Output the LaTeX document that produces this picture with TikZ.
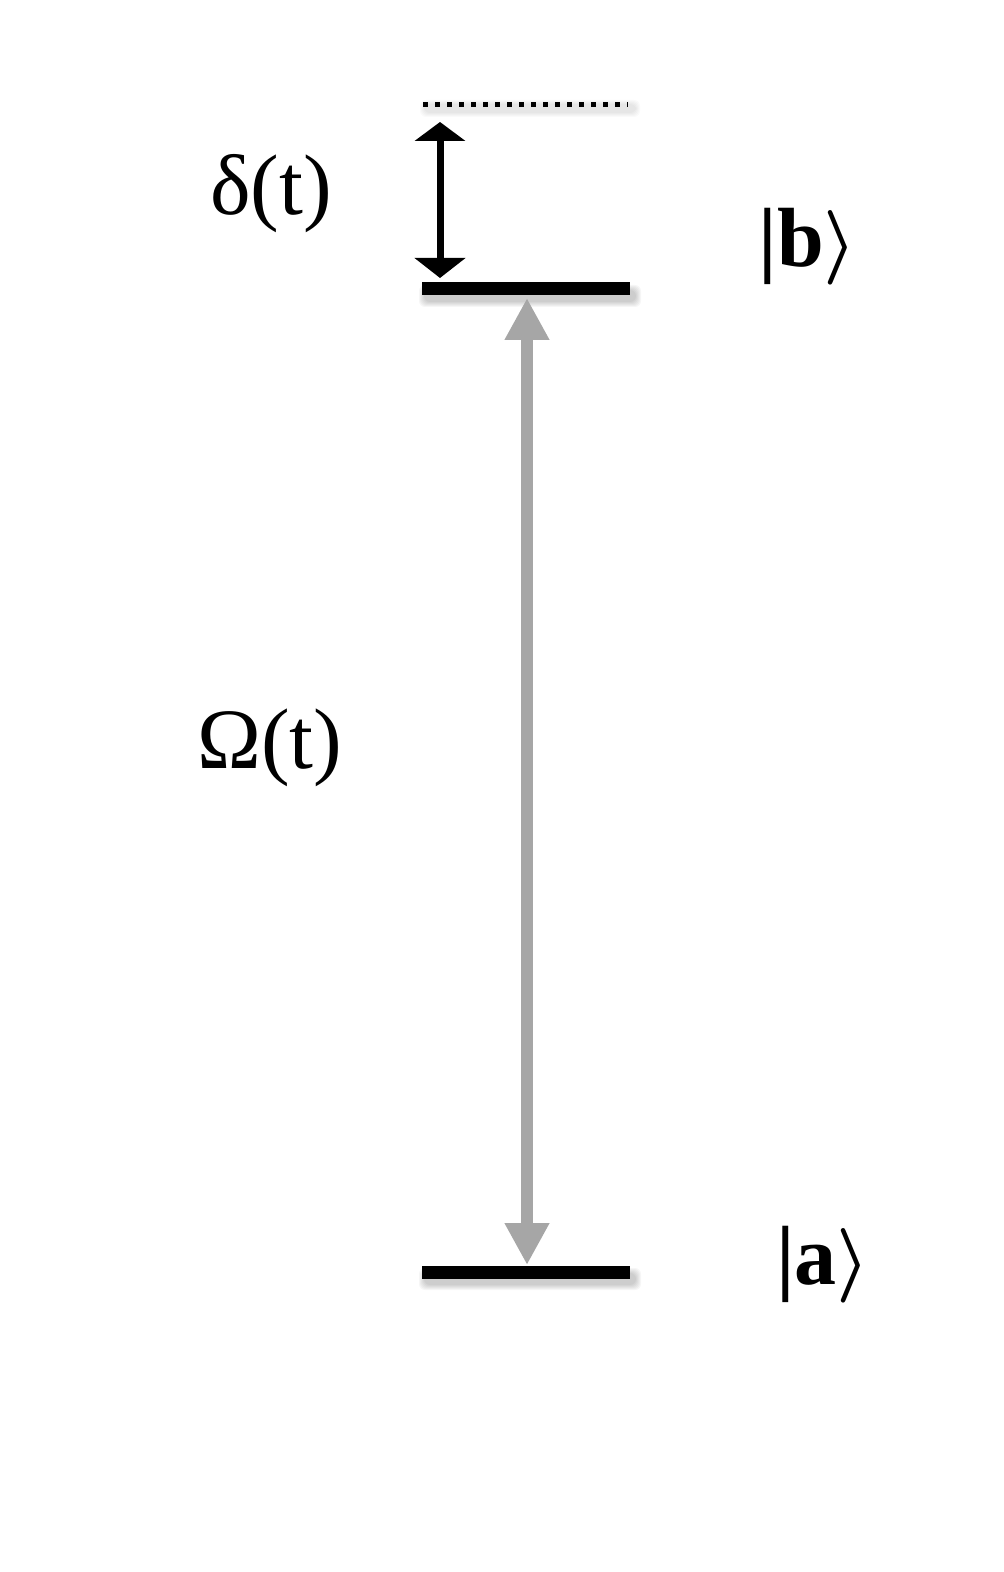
\documentclass[tikz,border=0pt]{standalone}
\usepackage{fontspec}
\usepackage{bm}
\setmainfont{Liberation Serif}
\usetikzlibrary{arrows.meta}
\definecolor{arrowgray}{RGB}{166,166,166}
\newcommand{\myket}[1]{\textbf{|#1}\scalebox{1.5}{\fontsize{24.88}{30}\selectfont$\bm{\rangle}$}}
\tikzset{
  px/.style={x=0.5pt,y=-0.5pt},
  level/.style={fill=black,inner sep=0pt,minimum width=104pt,minimum height=6.5pt},
  lbl/.style={inner sep=0pt,font=\fontsize{43}{50}\selectfont},
  ket/.style={inner sep=0pt,font=\fontsize{42}{50}\selectfont},
  detarrow/.style={line width=3.5pt,{Triangle[width=25pt,length=9.5pt]}-{Triangle[width=25pt,length=10pt]}},
  rabiarrow/.style={arrowgray,line width=6pt,{Triangle[width=21pt,length=21pt]}-{Triangle[width=21pt,length=21pt]}},
  dotline/.style={line width=2.5pt,dash pattern=on 2.5pt off 3.5pt}
}
\begin{document}
\begin{tikzpicture}[px]
\useasboundingbox (0,0) rectangle (1003,1572);
% soft shadows
\foreach \yy in {289,1272}{
  \foreach \i in {1,...,6}{
    \fill[black,opacity=0.035,rounded corners=3pt] (425-\i,\yy+2-\i) rectangle (635+\i,\yy+12+\i);
  }
}
\foreach \i in {1,...,5}{
  \fill[black,opacity=0.02,rounded corners=3pt] (425-\i,105-\i) rectangle (635+\i,112+\i);
}
% levels
\node[level] (lb) at (526,289) {};
\node[level] (la) at (526,1272) {};
\coordinate (vl) at (423,105);
\coordinate (vr) at (628,105);
\draw[dotline] (vl) -- (vr);
% detuning arrow
\coordinate (dtop) at (440,122);
\coordinate (dbot) at (440,278);
\draw[detarrow] (dtop) -- (dbot);
% Rabi arrow
\coordinate (rtop) at (527,298);
\coordinate (rbot) at (527,1265);
\draw[rabiarrow] (rtop) -- (rbot);
% labels
\node[lbl] (delta) at (271,194) {δ(t)};
\node[lbl] (omega) at (270,748) {Ω(t)};
\node[ket] (kb) at (808,247) {\myket{b}};
\node[ket] (ka) at (823,1265) {\myket{a}};
\end{tikzpicture}
\end{document}
